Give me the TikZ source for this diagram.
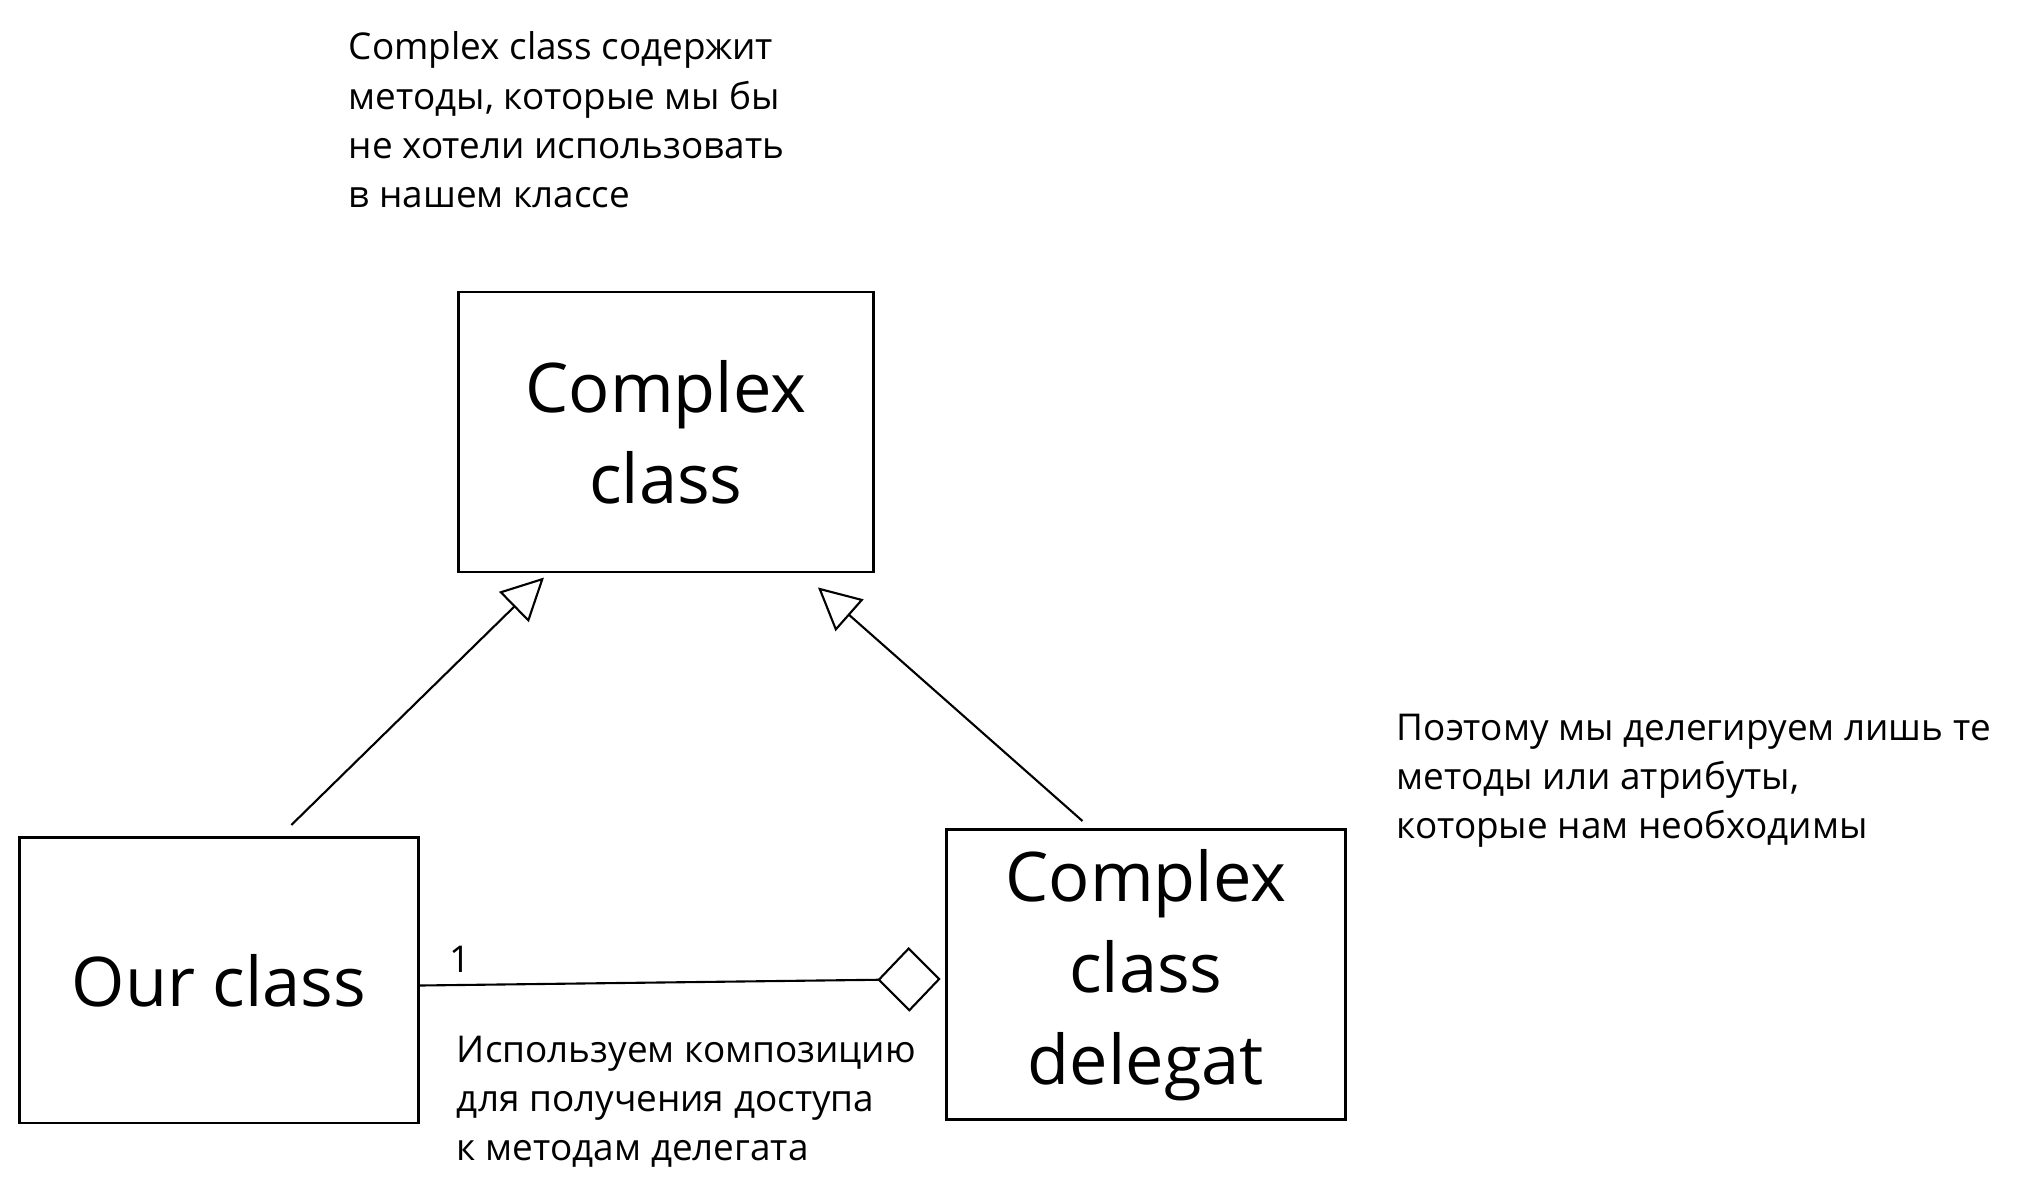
\documentclass[tikz,border=0pt]{standalone}
\usepackage{fontspec}
\setmainfont{Open Sans}
\usetikzlibrary{arrows.meta}

\begin{document}
\begin{tikzpicture}[x=0.13036mm,y=-0.13036mm,
                    class node/.style={rectangle, draw, thick, align=center,
                      font=\fontsize{19.5}{26}\selectfont},
                    note node/.style={align=left, anchor=west, inner sep=0pt,
                      font=\fontsize{10.5}{14}\selectfont},
                    inherit/.style={-{Triangle[open,length=12pt,width=12pt]}, semithick},
                    aggregate/.style={-{Diamond[open,length=18pt,width=18.4pt]}, semithick}]

  \useasboundingbox (0,0) rectangle (1568,917);

  %Classes%
  \node[class node, minimum width=118.1pt, minimum height=79.7pt] (complex) at (510.8,331.4) {Complex\\class};
  \node[class node, minimum width=113.5pt, minimum height=81.2pt] (ourclass) at (168,752) {Our class};
  \node[class node, minimum width=113.6pt, minimum height=82.5pt] (delegat) at (879,747.8) {Complex\\class\\delegat};

  %Notes%
  \node[note node] (notetop) at (267,92) {Complex class содержит\\методы, которые мы бы\\не хотели использовать\\в нашем классе};
  \node[note node] (noteright) at (1071,599) {Поэтому мы делегируем лишь те\\методы или атрибуты,\\которые нам необходимы};
  \node[note node] (notebottom) at (350,845) {Используем композицию\\для получения доступа\\к методам делегата};

  %Ends%
  \coordinate (ourtop) at ([shift={(55.5,-8.6)}]ourclass.north);
  \coordinate (delegattop) at ([shift={(-48.6,-5.7)}]delegat.north);
  \coordinate (tipleft) at ([shift={(-93.5,3.1)}]complex.south);
  \coordinate (tipright) at ([shift={(116.7,10.7)}]complex.south);
  \coordinate (ourright) at ([shift={(0,4)}]ourclass.east);
  \coordinate (delegatleft) at ([shift={(-3.2,3.2)}]delegat.west);

  \path[every node/.style={font=\fontsize{10.5}{14}\selectfont}]
    %Arrows%
    (ourtop) edge[inherit] (tipleft)
    (delegattop) edge[inherit] (tipright)
    (ourright) edge[aggregate] node[pos=0.077, above] {1} (delegatleft);
\end{tikzpicture}
\end{document}
